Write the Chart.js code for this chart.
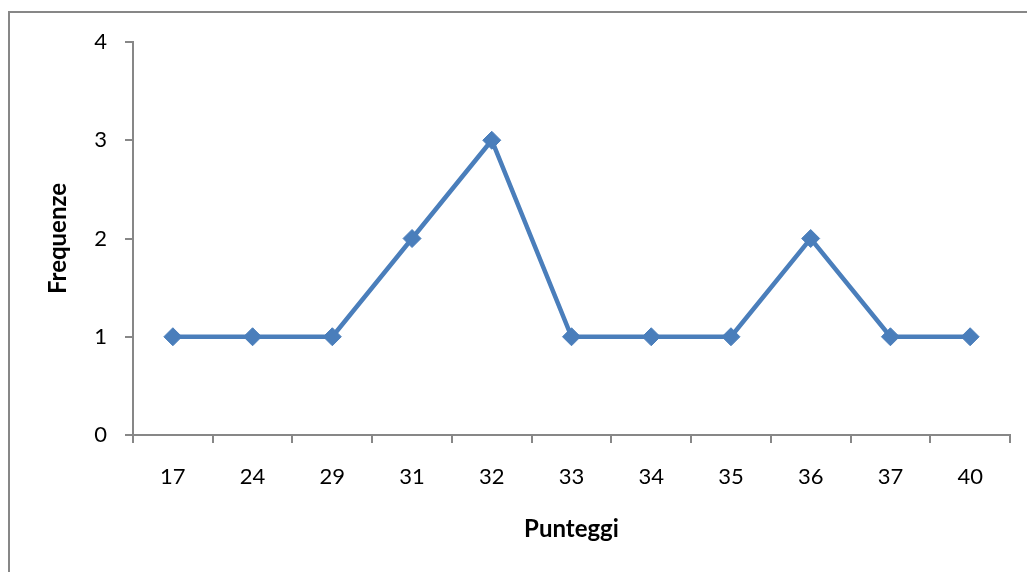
<!DOCTYPE html>
<html lang="it">
<head>
  <meta charset="UTF-8" />
  <title>Frequenze dei punteggi</title>
  <script src="https://cdn.jsdelivr.net/npm/chart.js"></script>
  <style>
    body {
      margin: 0;
      background: #ffffff;
      overflow: hidden;
    }

    .frame {
      position: absolute;
      left: 8px;
      top: 11px;
      width: 1100px;
      height: 700px;
      border: 2px solid #878787;
    }

    #chart {
      position: absolute;
      left: 0;
      top: 0;
    }
  </style>
</head>
<body>

  <div class="frame"></div>
  <canvas id="chart" width="1027" height="572"></canvas>

  <script>
    // Punteggi (categorie) e frequenze
    const punteggi = ['17', '24', '29', '31', '32', '33', '34', '35', '36', '37', '40'];
    const frequenze = [1, 1, 1, 2, 3, 1, 1, 1, 2, 1, 1];
    const yTicks = [0, 1, 2, 3, 4];

    const blue = '#4a7ebb';
    const axisGray = '#878787';
    const font = 'Lato, "Open Sans", sans-serif';

    new Chart(document.getElementById('chart'), {
      type: 'line',
      data: {
        labels: punteggi,
        datasets: [{
          label: 'Frequenze',
          data: frequenze,
          borderColor: blue,
          backgroundColor: blue,
          borderWidth: 4.5,
          tension: 0,
          pointStyle: 'rectRot',
          pointRadius: 9,
          pointBorderWidth: 1,
          pointBackgroundColor: blue,
          pointBorderColor: blue
        }]
      },
      options: {
        responsive: false,
        animation: false,
        layout: {
          autoPadding: false,
          padding: { left: 0, top: 42, right: 17, bottom: 0 }
        },
        plugins: {
          legend: { display: false },
          tooltip: { enabled: false }
        },
        scales: {
          x: {
            offset: true,
            grid: {
              offset: true,
              drawOnChartArea: false,
              drawTicks: true,
              tickLength: 8,
              color: axisGray,
              lineWidth: 2
            },
            border: { display: true, color: axisGray, width: 2 },
            ticks: {
              color: '#000',
              padding: 21,
              font: { family: font, size: 22 }
            },
            title: {
              display: true,
              text: 'Punteggi',
              color: '#000',
              padding: { top: 0, bottom: 28 },
              font: { family: font, size: 24, weight: 'bold' }
            },
            afterFit: s => { s.height = 137; }
          },
          y: {
            min: yTicks[0],
            max: yTicks[yTicks.length - 1],
            afterBuildTicks: s => { s.ticks = yTicks.map(v => ({ value: v })); },
            grid: {
              drawOnChartArea: false,
              drawTicks: true,
              tickLength: 8,
              color: axisGray,
              lineWidth: 2
            },
            border: { display: true, color: axisGray, width: 2 },
            ticks: {
              color: '#000',
              padding: 18,
              font: { family: font, size: 22 }
            },
            title: {
              display: true,
              text: 'Frequenze',
              color: '#000',
              padding: { top: 44, bottom: 0 },
              font: { family: font, size: 24, weight: 'bold' }
            },
            afterFit: s => { s.width = 133; }
          }
        }
      }
    });
  </script>

</body>
</html>
